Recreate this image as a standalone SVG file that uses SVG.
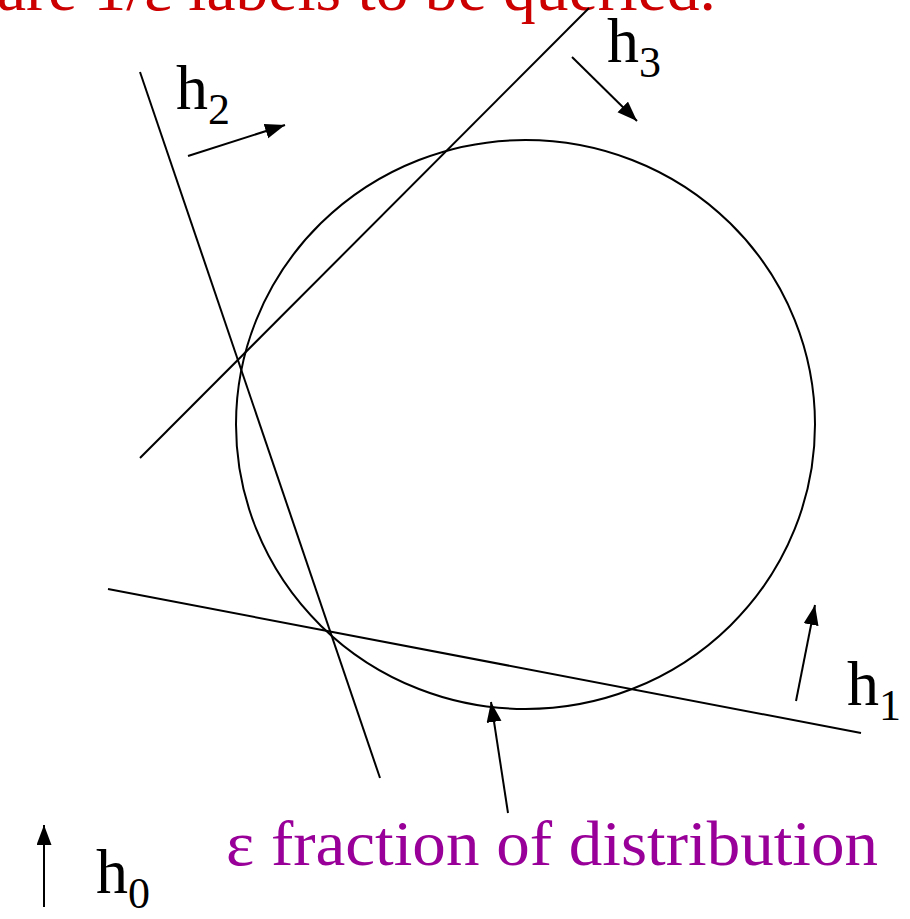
<svg xmlns="http://www.w3.org/2000/svg" width="910" height="919" viewBox="0 0 910 919">
<style>
.ln{stroke:#000;stroke-width:2;fill:none}
.ar{stroke:#000;stroke-width:2;fill:none;marker-end:url(#ah)}
.lbl{font-family:"Liberation Serif","DejaVu Serif",serif;font-size:64px;fill:#000}
.sub{font-size:44px}
</style>
<defs>
<marker id="ah" markerUnits="userSpaceOnUse" markerWidth="22" markerHeight="16" refX="20" refY="7.5" orient="auto">
<path d="M0,0 L20,7.5 L0,15 Z" fill="#000"/>
</marker>
</defs>
<text id="title" x="-3" y="10" font-family="Liberation Serif, DejaVu Serif, serif" font-size="64" fill="#CC0000" textLength="719" lengthAdjust="spacingAndGlyphs">are 1/ε labels to be queried.</text>
<g id="region">
<ellipse cx="525.5" cy="424.5" rx="289.5" ry="284.5" class="ln"/>
</g>
<g id="connectors">
<line id="line-h2" x1="140" y1="72" x2="380" y2="778" class="ln"/>
<line id="line-h3" x1="140" y1="458" x2="589" y2="8" class="ln"/>
<line id="line-h1" x1="108" y1="589" x2="861" y2="733" class="ln"/>
<line x1="188" y1="156" x2="285" y2="125" class="ar"/>
<line x1="572" y1="57" x2="637" y2="121" class="ar"/>
<line x1="796" y1="701" x2="815" y2="605" class="ar"/>
<line x1="508" y1="813" x2="491" y2="702" class="ar"/>
<line x1="44" y1="907" x2="44" y2="825" class="ar"/>
</g>
<g id="h2"><text class="lbl" x="176" y="109">h<tspan class="sub" dy="15">2</tspan></text></g>
<g id="h3"><text class="lbl" x="607" y="62">h<tspan class="sub" dy="15">3</tspan></text></g>
<g id="h1"><text class="lbl" x="847" y="705">h<tspan class="sub" dy="15">1</tspan></text></g>
<g id="h0"><text class="lbl" x="96" y="893">h<tspan class="sub" dy="15">0</tspan></text></g>
<g id="eps-label"><text x="226" y="865" font-family="Liberation Serif, DejaVu Serif, serif" font-size="64" fill="#990099" textLength="652" lengthAdjust="spacingAndGlyphs">ε fraction of distribution</text></g>
</svg>
